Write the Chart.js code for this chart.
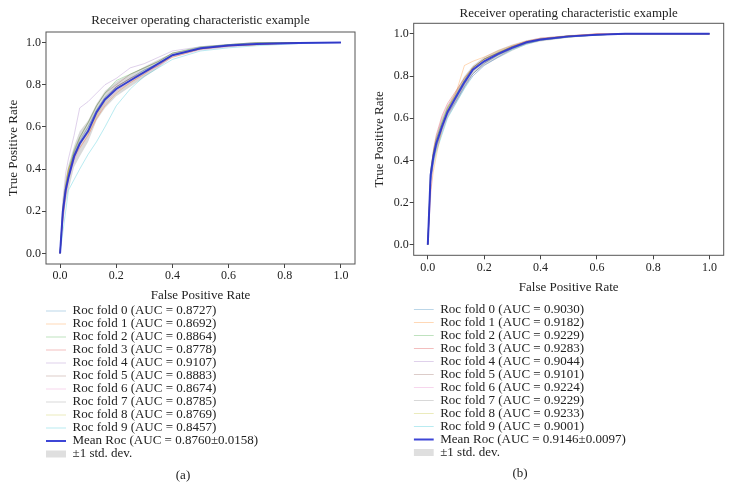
<!DOCTYPE html>
<html>
<head>
<meta charset="utf-8">
<script src="https://cdn.jsdelivr.net/npm/chart.js@4/dist/chart.umd.min.js"></script>
<style>
body { margin: 0; background: #fff; }
#wrap { position: relative; width: 733px; height: 502px; overflow: hidden; }
canvas { position: absolute; top: 0; }
#chartA { left: 0; }
#chartB { left: 366px; }
.cap { position: absolute; width: 40px; text-align: center; font: 13px 'Liberation Serif', serif; line-height: 16px; color: #222; }
</style>
</head>
<body>
<div id="wrap">
  <canvas id="chartA" width="366" height="502"></canvas>
  <canvas id="chartB" width="367" height="502"></canvas>
  <div class="cap" style="left:163px; top:467px;">(a)</div>
  <div class="cap" style="left:500px; top:465px;">(b)</div>
</div>
<script>
// false positive rate grid shared by every curve
var fpr = [0, 0.01, 0.02, 0.03, 0.05, 0.07, 0.1, 0.13, 0.16, 0.2, 0.25, 0.3, 0.35, 0.4, 0.5, 0.6, 0.7, 0.85, 1.0];

// panel (a)
var aucA = ['0.8727', '0.8692', '0.8864', '0.8778', '0.9107', '0.8883', '0.8674', '0.8785', '0.8769', '0.8457'];
var meanAucA = '0.8760\u00b10.0158';
var foldsA = [
  [0, 0.18, 0.30, 0.37, 0.47, 0.53, 0.60, 0.68, 0.74, 0.79, 0.83, 0.87, 0.90, 0.94, 0.97, 0.99, 0.995, 1, 1],
  [0, 0.20, 0.32, 0.40, 0.46, 0.50, 0.56, 0.64, 0.70, 0.76, 0.81, 0.85, 0.90, 0.93, 0.97, 0.985, 0.99, 1, 1],
  [0, 0.22, 0.33, 0.40, 0.49, 0.55, 0.62, 0.70, 0.76, 0.82, 0.85, 0.88, 0.91, 0.95, 0.98, 0.99, 1, 1, 1],
  [0, 0.15, 0.28, 0.36, 0.45, 0.52, 0.58, 0.66, 0.73, 0.79, 0.83, 0.86, 0.89, 0.94, 0.97, 0.985, 0.99, 1, 1],
  [0, 0.25, 0.38, 0.45, 0.56, 0.69, 0.72, 0.76, 0.80, 0.83, 0.88, 0.90, 0.93, 0.96, 0.98, 0.99, 1, 1, 1],
  [0, 0.20, 0.31, 0.38, 0.48, 0.55, 0.62, 0.70, 0.76, 0.80, 0.85, 0.88, 0.91, 0.95, 0.975, 0.99, 1, 1, 1],
  [0, 0.17, 0.27, 0.35, 0.44, 0.50, 0.56, 0.64, 0.71, 0.77, 0.81, 0.85, 0.89, 0.93, 0.965, 0.98, 0.99, 1, 1],
  [0, 0.19, 0.30, 0.38, 0.48, 0.54, 0.60, 0.68, 0.74, 0.79, 0.83, 0.87, 0.90, 0.94, 0.97, 0.985, 0.995, 1, 1],
  [0, 0.20, 0.31, 0.40, 0.47, 0.52, 0.57, 0.65, 0.72, 0.78, 0.82, 0.86, 0.90, 0.94, 0.97, 0.985, 0.99, 1, 1],
  [0, 0.10, 0.20, 0.30, 0.35, 0.40, 0.47, 0.53, 0.60, 0.70, 0.78, 0.84, 0.88, 0.92, 0.96, 0.975, 0.985, 0.995, 1]
];
var meanA  = [0, 0.20, 0.30, 0.36, 0.46, 0.52, 0.58, 0.67, 0.73, 0.78, 0.82, 0.86, 0.90, 0.94, 0.973, 0.986, 0.993, 0.998, 1];
var upperA = [0, 0.26, 0.36, 0.42, 0.51, 0.58, 0.63, 0.71, 0.77, 0.815, 0.85, 0.885, 0.92, 0.95, 0.98, 0.993, 0.998, 1, 1];
var lowerA = [0, 0.14, 0.24, 0.30, 0.41, 0.46, 0.53, 0.63, 0.69, 0.745, 0.79, 0.835, 0.88, 0.93, 0.965, 0.979, 0.988, 0.996, 1];

// panel (b)
var aucB = ['0.9030', '0.9182', '0.9229', '0.9283', '0.9044', '0.9101', '0.9224', '0.9229', '0.9233', '0.9001'];
var meanAucB = '0.9146\u00b10.0097';
var foldsB = [
  [0, 0.30, 0.40, 0.46, 0.55, 0.62, 0.68, 0.75, 0.81, 0.86, 0.90, 0.93, 0.955, 0.97, 0.985, 0.995, 1, 1, 1],
  [0, 0.25, 0.35, 0.42, 0.55, 0.64, 0.72, 0.85, 0.87, 0.89, 0.92, 0.945, 0.965, 0.975, 0.99, 1, 1, 1, 1],
  [0, 0.35, 0.44, 0.50, 0.58, 0.65, 0.71, 0.78, 0.84, 0.88, 0.91, 0.94, 0.96, 0.975, 0.99, 0.995, 1, 1, 1],
  [0, 0.33, 0.45, 0.52, 0.61, 0.67, 0.73, 0.79, 0.84, 0.88, 0.91, 0.94, 0.965, 0.98, 0.99, 1, 1, 1, 1],
  [0, 0.30, 0.40, 0.46, 0.54, 0.61, 0.68, 0.75, 0.80, 0.85, 0.89, 0.93, 0.955, 0.97, 0.985, 0.995, 1, 1, 1],
  [0, 0.32, 0.41, 0.47, 0.55, 0.62, 0.69, 0.76, 0.81, 0.86, 0.90, 0.93, 0.955, 0.97, 0.985, 0.995, 1, 1, 1],
  [0, 0.22, 0.40, 0.50, 0.60, 0.66, 0.72, 0.78, 0.84, 0.88, 0.91, 0.94, 0.962, 0.975, 0.99, 1, 1, 1, 1],
  [0, 0.34, 0.43, 0.49, 0.57, 0.64, 0.71, 0.78, 0.84, 0.88, 0.91, 0.94, 0.96, 0.975, 0.99, 0.995, 1, 1, 1],
  [0, 0.35, 0.44, 0.50, 0.58, 0.65, 0.72, 0.79, 0.84, 0.88, 0.915, 0.94, 0.96, 0.975, 0.99, 0.995, 1, 1, 1],
  [0, 0.30, 0.38, 0.44, 0.52, 0.60, 0.67, 0.74, 0.80, 0.85, 0.89, 0.925, 0.95, 0.97, 0.985, 0.995, 1, 1, 1]
];
var meanB  = [0, 0.33, 0.42, 0.48, 0.56, 0.63, 0.70, 0.77, 0.83, 0.87, 0.905, 0.935, 0.96, 0.973, 0.988, 0.996, 1, 1, 1];
var upperB = [0, 0.37, 0.46, 0.52, 0.60, 0.66, 0.73, 0.80, 0.85, 0.89, 0.925, 0.95, 0.97, 0.982, 0.994, 1, 1, 1, 1];
var lowerB = [0, 0.29, 0.38, 0.44, 0.52, 0.60, 0.67, 0.74, 0.81, 0.85, 0.885, 0.92, 0.95, 0.964, 0.982, 0.992, 1, 1, 1];

var tickLabels = ['0.0', '0.2', '0.4', '0.6', '0.8', '1.0'];

var foldColors = [
  'rgba(31,119,180,0.3)', 'rgba(255,127,14,0.3)', 'rgba(44,160,44,0.3)', 'rgba(214,39,40,0.3)',
  'rgba(148,103,189,0.3)', 'rgba(140,86,75,0.3)', 'rgba(227,119,194,0.3)', 'rgba(127,127,127,0.3)',
  'rgba(188,189,34,0.3)', 'rgba(23,190,207,0.3)'
];
var meanColor = 'rgba(40,50,210,0.9)';
var bandColor = 'rgba(128,128,128,0.3)';
var serif = "'Liberation Serif', 'DejaVu Serif', serif";
var textColor = '#222';

function pts(ys) {
  return fpr.map(function(x, j) { return {x: x, y: ys[j]}; });
}

function buildDatasets(folds, aucs, mean, upper, lower, meanAuc) {
  var sets = [];
  for (var i = 0; i < folds.length; i++) {
    sets.push({
      label: 'Roc fold ' + i + ' (AUC = ' + aucs[i] + ')',
      data: pts(folds[i]),
      borderColor: foldColors[i],
      borderWidth: 1,
      pointRadius: 0,
      fill: false,
      legendStyle: 'line'
    });
  }
  sets.push({
    label: 'Mean Roc (AUC = ' + meanAuc + ')',
    data: pts(mean),
    borderColor: meanColor,
    borderWidth: 2,
    pointRadius: 0,
    fill: false,
    order: -1,
    legendStyle: 'line'
  });
  sets.push({
    label: '\u00b11 std. dev.',
    data: pts(upper),
    borderWidth: 0,
    borderColor: 'rgba(0,0,0,0)',
    backgroundColor: bandColor,
    pointRadius: 0,
    fill: '+1',
    legendStyle: 'rect',
    legendFill: 'rgba(150,150,150,0.3)'
  });
  sets.push({
    label: '',
    data: pts(lower),
    borderWidth: 0,
    borderColor: 'rgba(0,0,0,0)',
    pointRadius: 0,
    fill: false
  });
  return sets;
}

var framePlugin = {
  id: 'frame',
  afterDraw: function(chart) {
    var a = chart.chartArea, c = chart.ctx;
    c.save();
    c.strokeStyle = '#555';
    c.lineWidth = 1;
    c.strokeRect(a.left, a.top, a.right - a.left, a.bottom - a.top);
    c.restore();
  }
};

function axis(title, titlePad) {
  return {
    type: 'linear',
    min: -0.05,
    max: 1.05,
    ticks: {
      stepSize: 0.2,
      includeBounds: false,
      padding: 1,
      color: textColor,
      font: {family: serif, size: 12},
      callback: function(v) { return tickLabels[Math.round(v * 5)]; }
    },
    grid: {drawOnChartArea: false, tickLength: 4, color: '#444'},
    border: {display: false},
    title: {display: true, text: title, color: textColor, font: {family: serif, size: 13}, padding: titlePad}
  };
}

function makeChart(id, datasets, titlePad, xTitlePad, yTitlePad, layoutPad) {
  return new Chart(document.getElementById(id).getContext('2d'), {
    type: 'line',
    data: {datasets: datasets},
    options: {
      responsive: false,
      animation: false,
      events: [],
      layout: {padding: layoutPad},
      scales: {
        x: axis('False Positive Rate', xTitlePad),
        y: axis('True Positive Rate', yTitlePad)
      },
      plugins: {
        tooltip: {enabled: false},
        title: {
          display: true,
          fullSize: false,
          text: 'Receiver operating characteristic example',
          color: textColor,
          font: {family: serif, size: 13, weight: 'normal'},
          padding: titlePad
        },
        legend: {
          position: 'bottom',
          align: 'start',
          fullSize: false,
          labels: {
            usePointStyle: true,
            pointStyleWidth: 20,
            boxHeight: 7,
            padding: 0,
            color: textColor,
            font: {family: serif, size: 13},
            generateLabels: function(chart) {
              return chart.data.datasets.map(function(ds, i) {
                // trailing spaces keep the band entry on its own row
                return {
                  text: ds.legendFill ? ds.label + '              ' : ds.label,
                  datasetIndex: i,
                  hidden: false,
                  pointStyle: ds.legendStyle,
                  fillStyle: ds.legendFill || ds.borderColor,
                  strokeStyle: ds.legendFill ? 'rgba(0,0,0,0)' : ds.borderColor,
                  lineWidth: ds.legendFill ? 0 : ds.borderWidth,
                  fontColor: textColor
                };
              }).filter(function(it) { return it.text !== ''; });
            }
          }
        }
      }
    },
    plugins: [framePlugin]
  });
}

var chartA = makeChart('chartA', buildDatasets(foldsA, aucA, meanA, upperA, lowerA, meanAucA),
  {top: 13, bottom: 3.4}, {top: 3, bottom: 1.5}, {top: 5.9, bottom: 3.5},
  {left: 0, right: 11, top: 0, bottom: 31.5});

var chartB = makeChart('chartB', buildDatasets(foldsB, aucB, meanB, upperB, lowerB, meanAucB),
  {top: 5.5, bottom: 2.2}, {top: 4, bottom: 7.7}, {top: 5.9, bottom: 5.2},
  {left: 0, right: 9.3, top: 0, bottom: 33});
</script>
</body>
</html>
